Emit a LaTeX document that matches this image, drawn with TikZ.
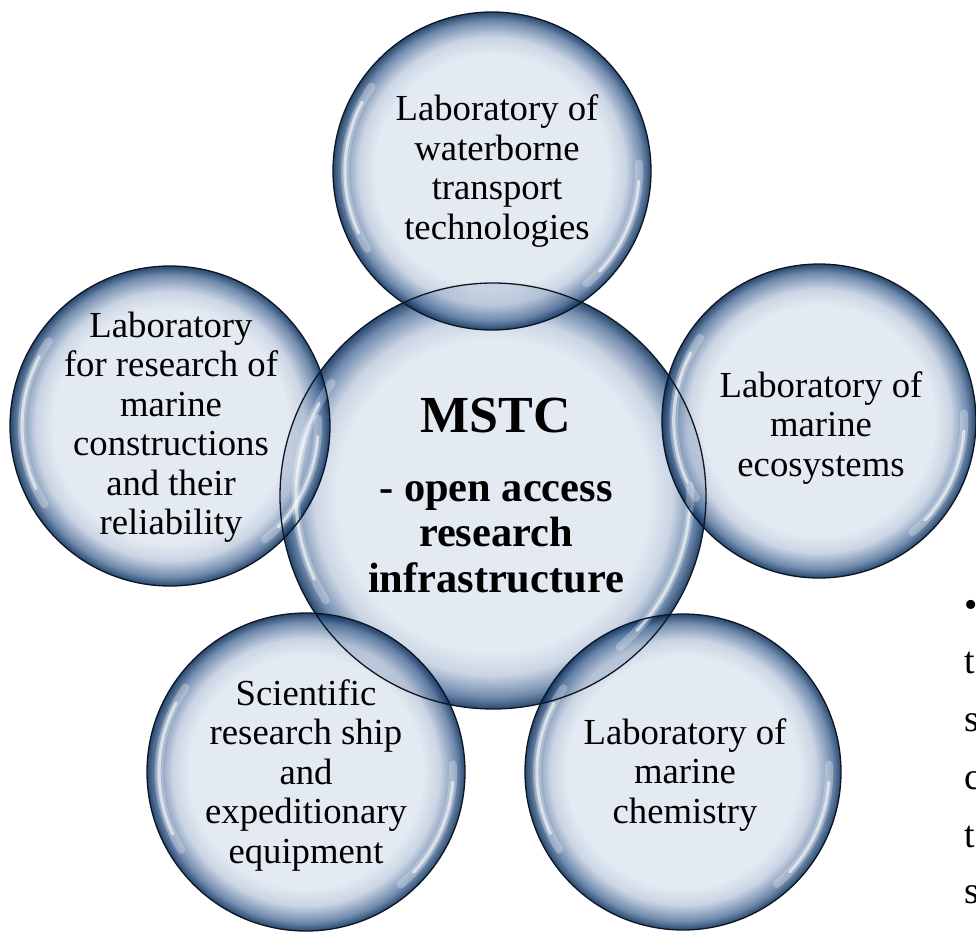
\documentclass[tikz,border=0pt]{standalone}
\usepackage{fontspec}
\setmainfont{Liberation Serif}
\definecolor{bA}{RGB}{224,230,240}
\definecolor{bB}{RGB}{194,206,224}
\definecolor{bC}{RGB}{90,120,160}
\definecolor{bD}{RGB}{6,42,86}
\definecolor{rimc}{RGB}{12,22,36}
\pgfdeclareradialshading{bubble}{\pgfpoint{0bp}{0bp}}{color(0bp)=(bA); color(18.3bp)=(bA); color(21bp)=(bB); color(23.6bp)=(bC); color(25bp)=(bD); color(50bp)=(bD)}
\tikzset{
  bub/.style={shading=bubble, fill opacity=0.86},
  rim/.style={draw=rimc, line width=0.65pt},
  hlwide/.style={draw=white, line width=4pt, opacity=0.28, line cap=round},
  hlthin/.style={draw=white, line width=1.6pt, opacity=0.6, line cap=round},
  lbl/.style={align=center, inner sep=0pt, font=\fontsize{18.35}{19.75}\selectfont},
  lblbig/.style={align=center, inner sep=0pt, font=\fontsize{26}{28}\selectfont\bfseries},
  lblsub/.style={align=center, inner sep=0pt, font=\fontsize{21.2}{22.75}\selectfont\bfseries},
  edgeletter/.style={anchor=base west, inner sep=0pt, font=\fontsize{19}{20}\selectfont},
}
\begin{document}
\begin{tikzpicture}[x=0.5pt,y=0.5pt]
\useasboundingbox (0,0) rectangle (976,-933);
\foreach \n/\x/\y in {C/493/496, T/492/171, L/170/426, R/819/421, BL/306/772, BR/683/772}
  {\coordinate (\n) at (\x,-\y);}
% fills
\foreach \n/\r in {C/213, T/159, L/160, R/157, BL/159, BR/158}
  {\shade[bub] (\n) circle[radius=\r];}
% highlights
\foreach \n/\r in {C/213, T/159, L/160, R/157, BL/159, BR/158}
  {\draw[hlwide] (\n) ++(145:{0.925*\r}) arc[start angle=145, end angle=212, radius={0.925*\r}];
   \draw[hlthin] (\n) ++(152:{0.925*\r}) arc[start angle=152, end angle=205, radius={0.925*\r}];
   \draw[hlwide] (\n) ++(-50:{0.925*\r}) arc[start angle=-50, end angle=3, radius={0.925*\r}];
   \draw[hlthin] (\n) ++(-43:{0.925*\r}) arc[start angle=-43, end angle=-4, radius={0.925*\r}];}
% outlines
\foreach \n/\r in {C/213, T/159, L/160, R/157, BL/159, BR/158}
  {\draw[rim] (\n) circle[radius=\r];}
% texts
\node[lblbig] (tC1) at (496,-416) {MSTC};
\node[lblsub] (tC2) at (496,-537) {- open access\\research\\infrastructure};
\node[lbl] (tT) at (497,-171) {Laboratory of\\waterborne\\transport\\technologies};
\node[lbl] (tL) at (171,-427) {Laboratory\\for research of\\marine\\constructions\\and their\\reliability};
\node[lbl] (tR) at (821,-428) {Laboratory of\\marine\\ecosystems};
\node[lbl] (tBL) at (306,-775) {Scientific\\research ship\\and\\expeditionary\\equipment};
\node[lbl] (tBR) at (685,-775) {Laboratory of\\marine\\chemistry};
% cut-off text at right edge (as in the reference)
\node[edgeletter] (e0) at (964,-617) {•};
\node[edgeletter] (e1) at (964,-673) {t};
\node[edgeletter] (e2) at (964,-731) {s};
\node[edgeletter] (e3) at (964,-789) {c};
\node[edgeletter] (e4) at (964,-847) {t};
\node[edgeletter] (e5) at (964,-903) {s};
\end{tikzpicture}
\end{document}
